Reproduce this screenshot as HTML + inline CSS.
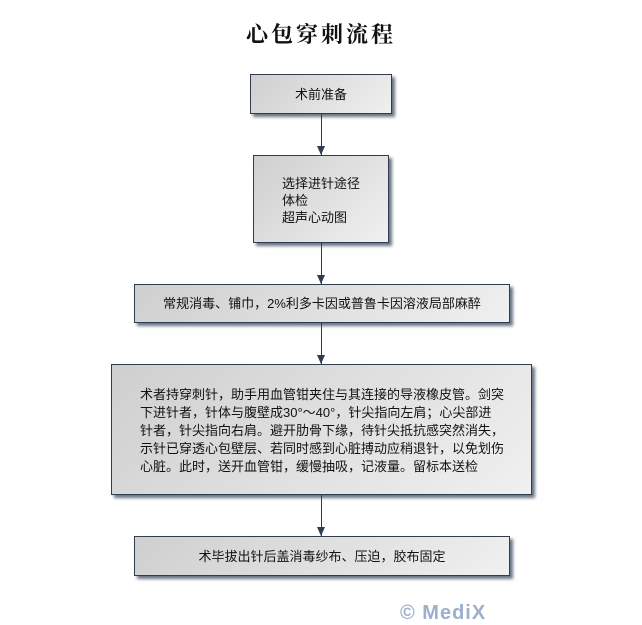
<!DOCTYPE html>
<html><head><meta charset="utf-8"><style>
body{margin:0;width:642px;height:624px;background:#fff;position:relative;overflow:hidden;font-family:"Liberation Sans","Noto Sans CJK SC",sans-serif;color:#111}
.b{position:absolute;box-sizing:border-box;border:1px solid #2f3d4f;background:linear-gradient(135deg,#cfcfcf,#f0f0f0);box-shadow:3px 3px 3px #6a7684;font-size:13px;line-height:17px;white-space:nowrap}
.t{position:absolute;left:0;width:642px;text-align:center;top:18px;font-size:22px;font-weight:bold;font-family:"Noto Serif CJK SC",serif;letter-spacing:3px}
.l{position:absolute;left:321px;width:1px;background:#2f3d4f}
.a{position:absolute;left:317px;width:0;height:0;border-left:4px solid transparent;border-right:4px solid transparent;border-top:9px solid #2f3d4f}
.c{display:flex;align-items:center;justify-content:center}
</style></head><body>
<div class="t">心包穿刺流程</div>
<div class="b c" style="left:250px;top:74px;width:142px;height:40px">术前准备</div>
<div class="l" style="top:114px;height:41px"></div><div class="a" style="top:146px"></div>
<div class="b" style="left:253px;top:155px;width:136px;height:88px;padding:19px 0 0 28px">选择进针途径<br>体检<br>超声心动图</div>
<div class="l" style="top:243px;height:41px"></div><div class="a" style="top:275px"></div>
<div class="b c" style="left:134px;top:284px;width:376px;height:39px">常规消毒、铺巾，2%利多卡因或普鲁卡因溶液局部麻醉</div>
<div class="l" style="top:323px;height:41px"></div><div class="a" style="top:355px"></div>
<div class="b" style="left:111px;top:364px;width:421px;height:131px;padding:21px 0 0 28px;line-height:18px">术者持穿刺针，助手用血管钳夹住与其连接的导液橡皮管。剑突<br>下进针者，针体与腹壁成30°～40°，针尖指向左肩；心尖部进<br>针者，针尖指向右肩。避开肋骨下缘，待针尖抵抗感突然消失，<br>示针已穿透心包壁层、若同时感到心脏搏动应稍退针，以免划伤<br>心脏。此时，送开血管钳，缓慢抽吸，记液量。留标本送检</div>
<div class="l" style="top:495px;height:41px"></div><div class="a" style="top:527px"></div>
<div class="b c" style="left:134px;top:536px;width:376px;height:40px">术毕拔出针后盖消毒纱布、压迫，胶布固定</div>
<div style="position:absolute;left:400px;top:602px;font-size:20px;font-weight:bold;color:#9ab0cc;letter-spacing:1px">© MediX</div>
</body></html>
